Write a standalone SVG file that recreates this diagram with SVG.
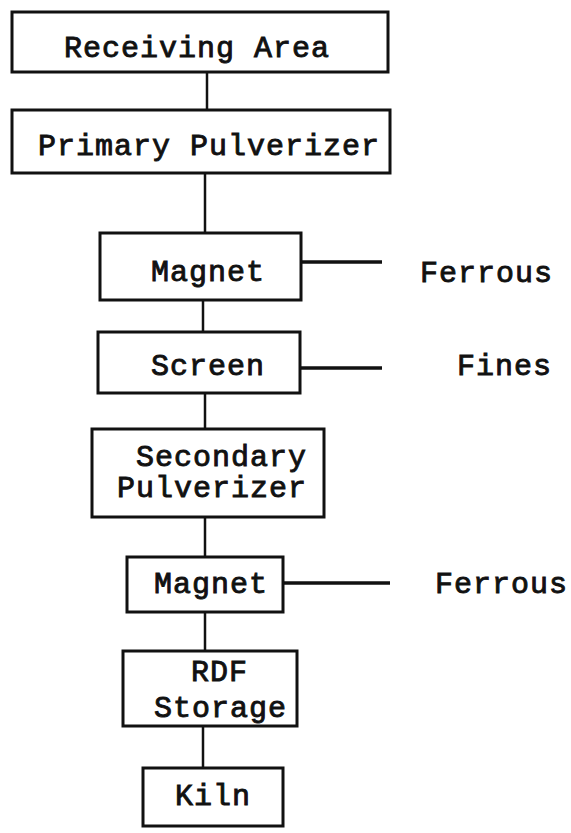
<svg xmlns="http://www.w3.org/2000/svg" width="571" height="833" viewBox="0 0 571 833">
<style>
.box{fill:#fff;stroke:#111;stroke-width:3}
.ln{stroke:#111;stroke-width:2.5;fill:none}
.side{stroke:#111;stroke-width:3.5;fill:none}
.t{font-family:"Liberation Mono","Courier New",monospace;font-size:30px;letter-spacing:1px;fill:#111;stroke:#111;stroke-width:0.9px}
</style>
<rect width="571" height="833" fill="#fff"/>
<g id="connectors">
<line class="ln" x1="207" y1="72" x2="207" y2="110"/>
<line class="ln" x1="205" y1="173" x2="205" y2="233"/>
<line class="ln" x1="203" y1="300" x2="203" y2="332"/>
<line class="ln" x1="205" y1="393" x2="205" y2="429"/>
<line class="ln" x1="205" y1="517" x2="205" y2="557"/>
<line class="ln" x1="205" y1="612" x2="205" y2="651"/>
<line class="ln" x1="203" y1="726" x2="203" y2="768"/>
<line class="side" x1="301" y1="262" x2="382" y2="262"/>
<line class="side" x1="300" y1="368" x2="382" y2="368"/>
<line class="side" x1="283" y1="583" x2="390" y2="583"/>
</g>
<g id="receiving">
<rect class="box" x="12" y="12" width="376" height="60"/>
<text class="t" x="64" y="57">Receiving Area</text>
</g>
<g id="primary">
<rect class="box" x="12" y="110" width="378" height="63"/>
<text class="t" x="38" y="155">Primary Pulverizer</text>
</g>
<g id="magnet1">
<rect class="box" x="100" y="233" width="201" height="67"/>
<text class="t" x="151" y="281">Magnet</text>
</g>
<g id="ferrous1"><text class="t" x="420" y="282">Ferrous</text></g>
<g id="screen">
<rect class="box" x="98" y="332" width="202" height="61"/>
<text class="t" x="151" y="375">Screen</text>
</g>
<g id="fines"><text class="t" x="457" y="375">Fines</text></g>
<g id="secondary">
<rect class="box" x="92" y="429" width="232" height="88"/>
<text class="t" x="136" y="466">Secondary</text>
<text class="t" x="117" y="497">Pulverizer</text>
</g>
<g id="magnet2">
<rect class="box" x="127" y="557" width="156" height="55"/>
<text class="t" x="154" y="593">Magnet</text>
</g>
<g id="ferrous2"><text class="t" x="435" y="593">Ferrous</text></g>
<g id="rdf">
<rect class="box" x="123" y="651" width="174" height="75"/>
<text class="t" x="191" y="681">RDF</text>
<text class="t" x="154" y="717">Storage</text>
</g>
<g id="kiln">
<rect class="box" x="143" y="768" width="140" height="58"/>
<text class="t" x="175" y="805">Kiln</text>
</g>
</svg>
